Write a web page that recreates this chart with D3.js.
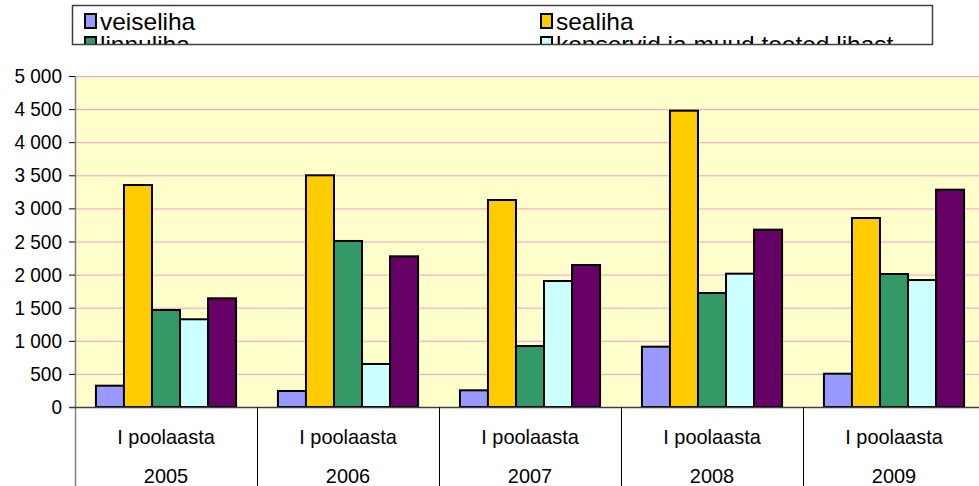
<!DOCTYPE html>
<html>
<head>
<meta charset="utf-8">
<script src="https://cdn.jsdelivr.net/npm/d3@7"></script>
<style>
  body { margin: 0; background: #fff; }
  svg { display: block; font-family: "Liberation Sans", Arial, sans-serif; }
</style>
</head>
<body>
<svg width="979" height="486"></svg>
<script>
// andmed
let aastad = ["2005", "2006", "2007", "2008", "2009"];
let periood = "I poolaasta";
let seeriad = ["veiseliha", "sealiha", "linnuliha", "konservid ja muud tooted lihast", "vorstid"];
let varvid = ["#9999FF", "#FFCC00", "#339966", "#CCFFFF", "#660066"];

let veiseliha = [322, 242, 252, 911, 503];
let sealiha = [3353, 3500, 3127, 4476, 2855];
let linnuliha = [1465, 2508, 921, 1722, 2009];
let konservid = [1325, 650, 1903, 2014, 1918];
let vorstid = [1642, 2276, 2145, 2679, 3283];

let y_tikid = [0, 500, 1000, 1500, 2000, 2500, 3000, 3500, 4000, 4500, 5000];

let vaartused = [veiseliha, sealiha, linnuliha, konservid, vorstid];

let andmed = aastad.map((a, i) => ({
  aasta: a,
  tulbad: seeriad.map((s, j) => ({ seeria: s, vaartus: vaartused[j][i] }))
}));

// mõõdud
let svg = d3.select("svg");
let plot = { left: 75, top: 76, right: 985, bottom: 407 };

let x0 = d3.scaleBand()
  .domain(aastad)
  .range([plot.left, plot.right]);

let vahe = x0.bandwidth() * 0.115;
let x1 = d3.scaleBand()
  .domain(seeriad)
  .range([vahe, x0.bandwidth() - vahe]);

let y = d3.scaleLinear()
  .domain([0, 5000])
  .range([plot.bottom, plot.top]);

let fill = d3.scaleOrdinal().domain(seeriad).range(varvid);

// tekst on originaalis veidi kitsam, sellepärast scale
function tekst(g, x, yy, s, size, anchor, venitus) {
  return g.append("text")
    .attr("transform", "translate(" + x + "," + yy + ") scale(" + venitus + ",1)")
    .attr("text-anchor", anchor)
    .attr("font-size", size)
    .attr("fill", "#000")
    .text(s);
}

// taust
svg.append("rect")
  .attr("x", plot.left).attr("y", plot.top)
  .attr("width", plot.right - plot.left).attr("height", plot.bottom - plot.top)
  .attr("fill", "#FFFFCC");

// ruudustik
svg.append("g")
  .selectAll("line")
  .data(y_tikid.filter(d => d > 0))
  .join("line")
    .attr("x1", plot.left).attr("x2", plot.right)
    .attr("y1", d => y(d) + 0.5).attr("y2", d => y(d) + 0.5)
    .attr("stroke", "#FF99CC")
    .attr("stroke-width", 1);

// tulbad
let grupid = svg.append("g")
  .selectAll("g")
  .data(andmed)
  .join("g")
    .attr("transform", d => "translate(" + x0(d.aasta) + ",0)");

grupid.selectAll("rect")
  .data(d => d.tulbad)
  .join("rect")
    .attr("x", d => x1(d.seeria))
    .attr("y", d => y(d.vaartus))
    .attr("width", x1.bandwidth())
    .attr("height", d => y(0) - y(d.vaartus))
    .attr("fill", d => fill(d.seeria))
    .attr("stroke", "#000")
    .attr("stroke-width", 2);

// y telg
let yAxis = svg.append("g");
yAxis.append("line")
  .attr("x1", plot.left + 0.5).attr("x2", plot.left + 0.5)
  .attr("y1", plot.top).attr("y2", 486)
  .attr("stroke", "#808080").attr("stroke-width", 1.5);

yAxis.selectAll("line.tick")
  .data(y_tikid)
  .join("line")
    .attr("class", "tick")
    .attr("x1", plot.left - 6).attr("x2", plot.left)
    .attr("y1", d => y(d) + 0.5).attr("y2", d => y(d) + 0.5)
    .attr("stroke", "#000");

let fmt = d => d3.format(",")(d).replace(/,/g, " ");
y_tikid.forEach(d => tekst(yAxis, 62, y(d) + 7, fmt(d), 20, "end", 0.95));

// x telg
let xAxis = svg.append("g");
xAxis.append("line")
  .attr("x1", plot.left - 6).attr("x2", plot.right)
  .attr("y1", plot.bottom + 0.5).attr("y2", plot.bottom + 0.5)
  .attr("stroke", "#404040").attr("stroke-width", 1.5);

xAxis.selectAll("line.sep")
  .data(aastad.slice(1))
  .join("line")
    .attr("class", "sep")
    .attr("x1", d => x0(d) + 0.5).attr("x2", d => x0(d) + 0.5)
    .attr("y1", plot.bottom).attr("y2", 486)
    .attr("stroke", "#000");

aastad.forEach(a => {
  let cx = x0(a) + x0.bandwidth() / 2;
  tekst(xAxis, cx, 444, periood, 21, "middle", 0.95);
  tekst(xAxis, cx, 483, a, 21, "middle", 0.95);
});

// legend (originaalis ära lõigatud)
let leg = { x: 72, y: 5, w: 860, h: 39 };
svg.append("clipPath").attr("id", "legclip")
  .append("rect").attr("x", leg.x).attr("y", leg.y).attr("width", leg.w).attr("height", leg.h);

let legG = svg.append("g").attr("clip-path", "url(#legclip)");
legG.append("rect")
  .attr("x", leg.x).attr("y", leg.y).attr("width", leg.w).attr("height", leg.h)
  .attr("fill", "#fff");

seeriad.forEach((s, i) => {
  let col = i % 2, row = Math.floor(i / 2);
  let lx = col === 0 ? 85 : 541;
  let ly = 30 + row * 23;
  legG.append("rect")
    .attr("x", lx).attr("y", ly - 16)
    .attr("width", 11).attr("height", 14)
    .attr("fill", fill(s))
    .attr("stroke", "#000").attr("stroke-width", 2);
  tekst(legG, lx + 15, ly, s, 24, "start", 1.02);
});

svg.append("rect")
  .attr("x", leg.x + 0.5).attr("y", leg.y + 0.5).attr("width", leg.w).attr("height", leg.h)
  .attr("fill", "none").attr("stroke", "#404040").attr("stroke-width", 1.5);
</script>
</body>
</html>
